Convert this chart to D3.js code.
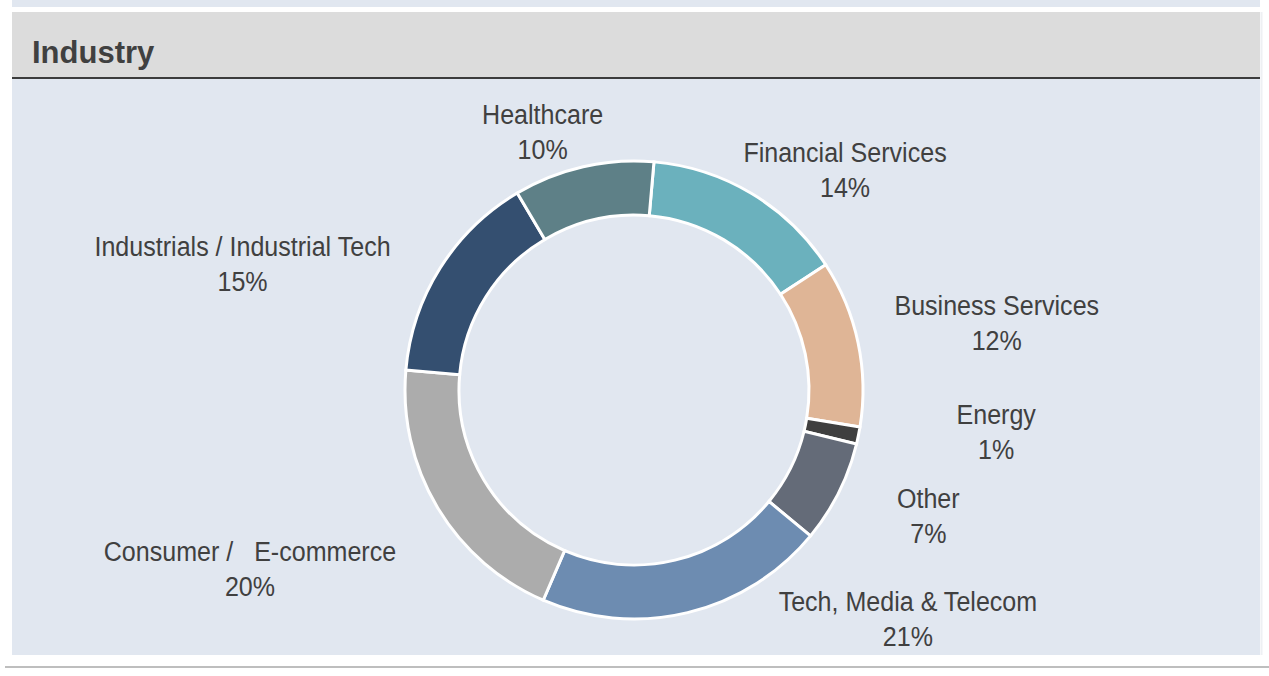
<!DOCTYPE html>
<html>
<head>
<meta charset="utf-8">
<script src="https://cdn.jsdelivr.net/npm/d3@7"></script>
<style>
  html, body { margin: 0; padding: 0; background: #ffffff; }
  svg { display: block; }
</style>
</head>
<body>
<svg id="chart" width="1269" height="676"></svg>
<script>
// ---- data ----
const categories = ["Financial Services", "Business Services", "Energy", "Other",
  "Tech, Media & Telecom", "Consumer /   E-commerce", "Industrials / Industrial Tech", "Healthcare"];
const shares = [14.4, 11.8, 1.2, 7.2, 20.5, 19.9, 15.1, 9.9];
const colors = ["#6bb1bd", "#dfb596", "#3f3f3f", "#646b78", "#6d8cb1", "#acacac", "#344f70", "#5e8087"];
const title = "Industry";

// ---- layout (label nudges relative to label arc) ----
const labelNudge = [[62, 28], [79, -8], [78, -16], [35, -4], [206, -53], [-135, 30], [-146, 28], [-27, 24]];

const W = 1269, H = 676;
const svg = d3.select("#chart");

// backgrounds
svg.append("rect").attr("x", 12).attr("y", 0).attr("width", 1248).attr("height", 7).attr("fill", "#e1e7f0");
svg.append("rect").attr("x", 12).attr("y", 12).attr("width", 1248).attr("height", 65).attr("fill", "#dcdcdc");
svg.append("rect").attr("x", 12).attr("y", 79).attr("width", 1248).attr("height", 576).attr("fill", "#e1e7f0");
svg.append("line").attr("x1", 12).attr("x2", 1260).attr("y1", 78).attr("y2", 78)
  .attr("stroke", "#3c3c3c").attr("stroke-width", 2);
svg.append("line").attr("x1", 1261.5).attr("x2", 1261.5).attr("y1", 12).attr("y2", 655)
  .attr("stroke", "#eef0f3").attr("stroke-width", 2);
svg.append("line").attr("x1", 5).attr("x2", 1269).attr("y1", 667).attr("y2", 667)
  .attr("stroke", "#a9a9a9").attr("stroke-width", 1.5);

svg.append("text").attr("x", 32).attr("y", 63).text(title)
  .attr("font-family", "'Liberation Sans', Arial, sans-serif")
  .attr("font-weight", "bold").attr("font-size", 31).attr("fill", "#404040");

// donut
const cx = 634, cy = 390;
const startA = 5 * Math.PI / 180;
const pie = d3.pie().sort(null).value(d => d).startAngle(startA).endAngle(startA + 2 * Math.PI);
const arcs = pie(shares);
const arc = d3.arc().innerRadius(175).outerRadius(229);
const labelArc = d3.arc().innerRadius(290).outerRadius(290);

const g = svg.append("g").attr("transform", `translate(${cx},${cy})`);
g.selectAll("path.slice").data(arcs).join("path")
  .attr("class", "slice")
  .attr("d", arc)
  .attr("fill", (d, i) => colors[i])
  .attr("stroke", "#ffffff").attr("stroke-width", 3).attr("stroke-linejoin", "miter");

const fmt = v => Math.round(v) + "%";
const lab = g.selectAll("text.lab").data(arcs).join("text")
  .attr("class", "lab")
  .attr("font-family", "'Liberation Sans', Arial, sans-serif")
  .attr("font-size", 28).attr("fill", "#404040").attr("text-anchor", "middle")
  .attr("transform", (d, i) => {
    const c = labelArc.centroid(d);
    return `translate(${c[0] + labelNudge[i][0]},${c[1] + labelNudge[i][1]}) scale(0.895,1)`;
  });
lab.append("tspan").attr("x", 0).attr("y", -7.5).style("white-space", "pre").text((d, i) => categories[i]);
lab.append("tspan").attr("x", 0).attr("y", 27.5).text(d => fmt(d.data));
</script>
</body>
</html>
